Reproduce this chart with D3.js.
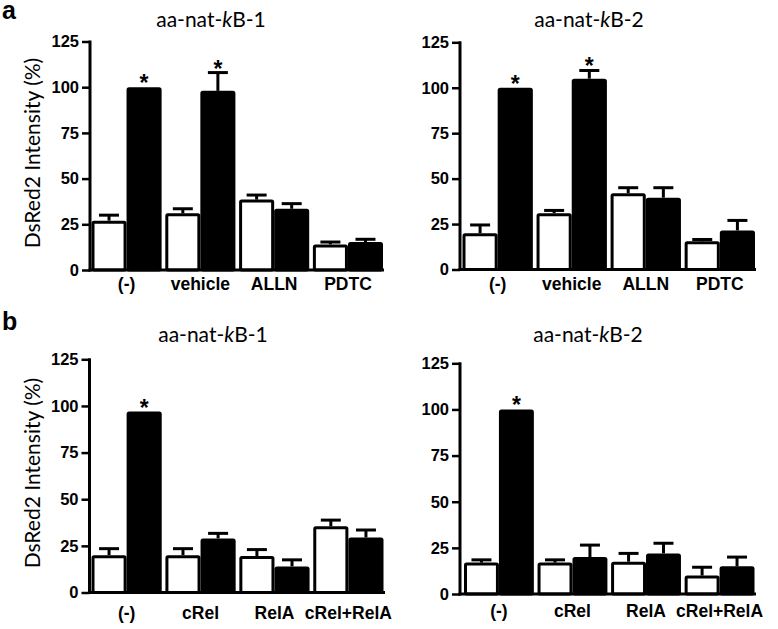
<!DOCTYPE html>
<html>
<head>
<meta charset="utf-8">
<script src="https://cdn.jsdelivr.net/npm/d3@7"></script>
<style>
  html, body { margin: 0; padding: 0; background: #fff; }
  svg { display: block; }
</style>
</head>
<body>
<svg id="chart" width="778" height="629"></svg>
<script>
// ---------- data ----------
const categoriesA = ["(-)", "vehicle", "ALLN", "PDTC"];
const categoriesB = ["(-)", "cRel", "RelA", "cRel+RelA"];
const yTicks = [0, 25, 50, 75, 100, 125];

const a1White    = [27, 31, 38.5, 14];
const a1WhiteErr = [3, 2.5, 2.5, 1.3];
const a1Black    = [100, 98, 33.5, 15.3];
const a1BlackErr = [0, 10, 2.8, 1.5];
const a1Sig      = [true, true, false, false];

const a2White    = [20, 31, 42, 15.5];
const a2WhiteErr = [4.5, 1.5, 3, 1];
const a2Black    = [100, 105, 39.5, 21.5];
const a2BlackErr = [0, 4.5, 5.5, 5.5];
const a2Sig      = [true, true, false, false];

const b1White    = [20, 20, 19.5, 35.5];
const b1WhiteErr = [3.5, 3.5, 3.5, 3.3];
const b1Black    = [97, 29, 14, 29.5];
const b1BlackErr = [0, 2.7, 3.5, 4];
const b1Sig      = [true, false, false, false];

const b2White    = [17, 17, 17.5, 10];
const b2WhiteErr = [1.5, 1.5, 4.5, 4.5];
const b2Black    = [100, 20, 22, 15];
const b2BlackErr = [0, 6.5, 5.5, 5];
const b2Sig      = [true, false, false, false];

const titles = ["aa-nat-kB-1", "aa-nat-kB-2"];
const yLabel = "DsRed2 Intensity (%)";

// ---------- layout ----------
const panels = [
  {cats: categoriesA, w: a1White, we: a1WhiteErr, b: a1Black, be: a1BlackErr, sig: a1Sig, title: 0,
   ax: 90, x0: 91.5, x1: 383, xEnd: 384, y0: 270, y1: 41.5, ty: 27, tx: 211, lab: 20},
  {cats: categoriesA, w: a2White, we: a2WhiteErr, b: a2Black, be: a2BlackErr, sig: a2Sig, title: 1,
   ax: 460, x0: 462.5, x1: 755, xEnd: 756, y0: 269.5, y1: 42.3, ty: 27, tx: 589, lab: 20.5},
  {cats: categoriesB, w: b1White, we: b1WhiteErr, b: b1Black, be: b1BlackErr, sig: b1Sig, title: 0,
   ax: 89.5, x0: 91.5, x1: 383.5, xEnd: 385, y0: 592.5, y1: 359.3, ty: 342, tx: 213, lab: 26},
  {cats: categoriesB, w: b2White, we: b2WhiteErr, b: b2Black, be: b2BlackErr, sig: b2Sig, title: 1,
   ax: 460, x0: 464, x1: 754.5, xEnd: 756, y0: 594, y1: 363.3, ty: 342, tx: 588, lab: 23}
];

const svg = d3.select("#chart");
const SANS = "'Liberation Sans', Arial, sans-serif";
const HUM = "Lato, 'Open Sans', sans-serif";

panels.forEach(p => {
  const g = svg.append("g");
  const y = d3.scaleLinear().domain([0, 125]).range([p.y0, p.y1]);
  const xg = d3.scaleBand().domain(p.cats).range([p.x0, p.x1]).paddingInner(0.05).paddingOuter(0);
  const xs = d3.scaleBand().domain(["white", "black"]).range([0, xg.bandwidth()]).padding(0);
  const bw = xs.bandwidth();

  const rows = p.cats.map((c, i) => ({c, i}));
  const series = [
    {key: "white", vals: p.w, errs: p.we, fill: "#fff"},
    {key: "black", vals: p.b, errs: p.be, fill: "#000"}
  ];

  // error bars (behind bars)
  series.forEach(s => {
    rows.forEach(r => {
      const e = s.errs[r.i];
      if (!e) return;
      const cx = xg(r.c) + xs(s.key) + bw / 2;
      g.append("line").attr("x1", cx).attr("x2", cx)
        .attr("y1", y(s.vals[r.i])).attr("y2", y(s.vals[r.i] + e))
        .attr("stroke", "#000").attr("stroke-width", 3);
      g.append("line").attr("x1", cx - 10).attr("x2", cx + 10)
        .attr("y1", y(s.vals[r.i] + e)).attr("y2", y(s.vals[r.i] + e))
        .attr("stroke", "#000").attr("stroke-width", 3);
    });
  });

  // bars
  series.forEach(s => {
    g.selectAll(null).data(rows).enter().append("rect")
      .attr("x", d => xg(d.c) + xs(s.key) + 1.5)
      .attr("width", bw - 3)
      .attr("y", d => y(s.vals[d.i]) + 1.5)
      .attr("height", d => y(0) - y(s.vals[d.i]) - 1.5)
      .attr("rx", 1)
      .attr("fill", s.fill)
      .attr("stroke", "#000")
      .attr("stroke-width", 3);
  });

  // significance asterisks
  rows.forEach(r => {
    if (!p.sig[r.i]) return;
    const top = p.b[r.i] + (p.be[r.i] || 0);
    const cx = xg(r.c) + xs("black") + bw / 2;
    g.append("text").attr("x", cx).attr("y", y(top) + 4)
      .attr("text-anchor", "middle")
      .style("font-family", SANS).style("font-weight", "bold").style("font-size", "23px")
      .text("*");
  });

  // y axis
  const yAxis = d3.axisLeft(y).tickValues(yTicks).tickSize(8).tickPadding(3).tickSizeOuter(0);
  const ya = g.append("g").attr("transform", `translate(${p.ax},0)`).call(yAxis);
  ya.select(".domain").remove();
  ya.selectAll(".tick line").attr("stroke", "#000").attr("stroke-width", 2.5);
  ya.selectAll(".tick text")
    .style("font-family", SANS).style("font-weight", "bold").style("font-size", "16.5px")
    .attr("fill", "#000");
  g.append("line").attr("x1", p.ax).attr("x2", p.ax)
    .attr("y1", p.y0 + 1.5).attr("y2", p.y1 - 1)
    .attr("stroke", "#000").attr("stroke-width", 3);

  // x axis
  g.append("line").attr("x1", p.ax - 1.5).attr("x2", p.xEnd)
    .attr("y1", p.y0).attr("y2", p.y0)
    .attr("stroke", "#000").attr("stroke-width", 3);
  const xa = d3.axisBottom(xg).tickSize(0).tickPadding(0);
  const xag = g.append("g").attr("transform", `translate(0,${p.y0})`).call(xa);
  xag.select(".domain").remove();
  xag.selectAll(".tick text")
    .attr("y", p.lab).attr("dy", 0)
    .style("font-family", SANS).style("font-weight", "bold").style("font-size", "17.5px")
    .attr("fill", "#000");

  // title
  const t = g.append("text")
    .attr("x", p.tx)
    .attr("y", p.ty)
    .attr("text-anchor", "middle")
    .style("font-family", HUM).style("font-size", "21px").attr("fill", "#000");
  const parts = titles[p.title].split("k");
  t.append("tspan").text(parts[0]);
  t.append("tspan").style("font-style", "italic").text("k");
  t.append("tspan").text(parts[1]);
});

// y-axis labels
[{cy: 153}, {cy: 473}].forEach(o => {
  svg.append("text")
    .attr("transform", `translate(40,${o.cy}) rotate(-90)`)
    .attr("text-anchor", "middle")
    .style("font-family", HUM).style("font-size", "21px").attr("fill", "#000")
    .text(yLabel);
});

// panel letters
svg.append("text").attr("x", 2).attr("y", 19)
  .style("font-family", SANS).style("font-weight", "bold").style("font-size", "25px").text("a");
svg.append("text").attr("x", 2).attr("y", 330)
  .style("font-family", SANS).style("font-weight", "bold").style("font-size", "25px").text("b");
</script>
</body>
</html>
